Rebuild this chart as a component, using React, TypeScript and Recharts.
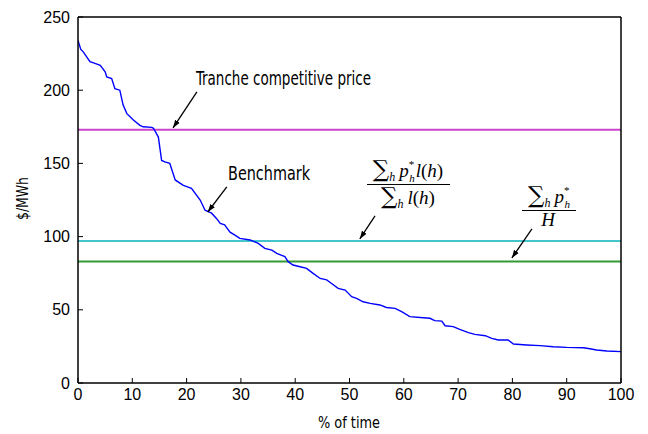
import React from 'react';
import { LineChart, Line, XAxis, YAxis, ReferenceLine } from 'recharts';

// % of time (x) and price in $/MWh (y) of the price-duration curve
const timePct = [
  0, 0.5, 1, 2.2, 3, 4.1, 5, 5.3, 6.2, 6.8, 7.7, 8.3, 9, 10.2, 11.4, 12, 13.6, 13.9,
  14.8, 15.4, 16, 16.9, 17.9, 19.4, 20.9, 22.5, 23.4, 24.6, 25.5, 26.2, 27, 28, 28.9,
  29.8, 31.7, 33.2, 34.4, 35.7, 36.6, 38.1, 38.7, 39.6, 40.9, 42.1, 43.3, 44.6, 45.8,
  46.7, 47.9, 49.2, 50.4, 51.3, 52.5, 53.8, 55.6, 56.8, 58.4, 59.6, 61.1, 63.6, 64.8,
  65.7, 67, 67.6, 69.1, 70.3, 71.9, 73.1, 75, 76.2, 77.4, 79.2, 80.2, 82.6, 85.1, 87.5,
  90, 93.1, 94, 95.5, 97.4, 100,
];
const price = [
  234, 228, 226, 219.5, 218.5, 217, 212.6, 209, 208, 201, 200, 190, 184, 179.6, 176, 175,
  174.6, 174, 168, 152, 151, 150, 138.7, 135, 133, 125, 118, 116, 112.4, 109, 108, 103,
  101, 98.8, 97.7, 95.4, 92, 90.8, 88.5, 86.3, 82.9, 80.6, 79.4, 78.3, 74.9, 71.4, 70.4,
  68, 64.6, 63.5, 59, 57.8, 55.5, 54.4, 53.3, 51.6, 51, 48.7, 45.3, 44.6, 44.2, 42.6,
  42.3, 39.1, 38.5, 36.6, 34.4, 33.2, 32.3, 30.5, 29.4, 29.4, 26.6, 26, 25.5, 24.8, 24.3,
  24.1, 23.6, 22.5, 21.9, 21.4,
];

const xTicks = [0, 10, 20, 30, 40, 50, 60, 70, 80, 90, 100];
const yTicks = [0, 50, 100, 150, 200, 250];

// horizontal reference price levels
const trancheLevel = 173;
const weightedAvgLevel = 97;
const simpleAvgLevel = 83;

// annotation arrows in data coordinates: [fromX, fromY, toX, toY]
const arrowTranche = [21.9, 198.8, 17.5, 174.2];
const arrowBenchmark = [27.4, 133.9, 23.9, 116.8];
const arrowWeighted = [54.7, 114.1, 51.9, 98.4];
const arrowSimple = [83.6, 105.2, 79.9, 85.4];
const arrows = [arrowTranche, arrowBenchmark, arrowWeighted, arrowSimple];

const data = timePct.map((x, i) => ({ x, p: price[i] }));

const tickFont = { fontFamily: "'Liberation Sans', Arial, sans-serif", fontSize: 16, fill: '#000' };
const condFont = "'DejaVu Sans Condensed', 'DejaVu Sans', sans-serif";
const serif = "'Liberation Serif', 'DejaVu Serif', serif";
const sumFont = "'DejaVu Serif', serif";

export default function App() {
  return (
    <div style={{ position: 'absolute', left: 0, top: 0, width: 648, height: 434, background: '#fff' }}>
      <svg width={0} height={0} style={{ position: 'absolute' }}>
        <defs>
          <marker id="arrowHead" viewBox="0 0 10 10" refX="10" refY="5" markerWidth="8" markerHeight="8"
            markerUnits="userSpaceOnUse" orient="auto">
            <path d="M0,1.5 L10,5 L0,8.5 z" fill="#000" />
          </marker>
        </defs>
      </svg>
      <LineChart width={648} height={434} data={data} margin={{ top: 0, right: 0, bottom: 0, left: 0 }}>
        <XAxis dataKey="x" type="number" domain={[0, 100]} ticks={xTicks} allowDataOverflow
          height={51} tickSize={-5} tickMargin={11} tick={tickFont}
          axisLine={{ stroke: '#000', strokeWidth: 1.5 }} tickLine={{ stroke: '#000' }} />
        <XAxis xAxisId="top" orientation="top" type="number" domain={[0, 100]} ticks={xTicks}
          allowDataOverflow height={17} tickSize={-5} tick={false}
          axisLine={{ stroke: '#000', strokeWidth: 1.5 }} tickLine={{ stroke: '#000' }} />
        <YAxis type="number" domain={[0, 250]} ticks={yTicks} allowDataOverflow width={78}
          tickSize={-5} tickMargin={13} tick={tickFont}
          axisLine={{ stroke: '#000', strokeWidth: 1.5 }} tickLine={{ stroke: '#000' }} />
        <YAxis yAxisId="right" orientation="right" type="number" domain={[0, 250]} ticks={yTicks}
          allowDataOverflow width={27} tickSize={-5} tick={false}
          axisLine={{ stroke: '#000', strokeWidth: 1.5 }} tickLine={{ stroke: '#000' }} />
        <ReferenceLine y={trancheLevel} stroke="#cc44cc" strokeWidth={2} />
        <ReferenceLine y={weightedAvgLevel} stroke="#44c4cc" strokeWidth={2} />
        <ReferenceLine y={simpleAvgLevel} stroke="#339933" strokeWidth={2} />
        <Line type="linear" dataKey="p" stroke="#0000ff" strokeWidth={1.4} dot={false}
          isAnimationActive={false} />
        {arrows.map((a, i) => (
          <ReferenceLine key={i} segment={[{ x: a[0], y: a[1] }, { x: a[2], y: a[3] }]}
            stroke="#000" strokeWidth={1.3} markerEnd="url(#arrowHead)" />
        ))}
      </LineChart>
      <svg width={648} height={434} style={{ position: 'absolute', left: 0, top: 0, pointerEvents: 'none' }}>
        <text x={196} y={85} fontFamily={condFont} fontSize={19} textLength={175}
          lengthAdjust="spacingAndGlyphs" fill="#000">Tranche competitive price</text>
        <text x={228} y={180} fontFamily={condFont} fontSize={19} textLength={82}
          lengthAdjust="spacingAndGlyphs" fill="#000">Benchmark</text>
        <text x={318} y={428} fontFamily={condFont} fontSize={16} textLength={62}
          lengthAdjust="spacingAndGlyphs" fill="#000">% of time</text>
        <text transform="translate(28,220) rotate(-90)" x={0} y={0} fontFamily={condFont}
          fontSize={16} textLength={43} lengthAdjust="spacingAndGlyphs" fill="#000">$/MWh</text>

        {/* weighted average formula */}
        <text x={408} y={177} textAnchor="middle" fontFamily={serif} fontSize={19} fill="#000">
          <tspan fontFamily={sumFont} fontSize={23}>∑</tspan>
          <tspan fontSize={12} fontStyle="italic" dy={4}>h</tspan>
          <tspan fontStyle="italic" dy={-4} dx={4}>p</tspan>
          <tspan fontSize={11} dy={-9}>*</tspan>
          <tspan fontSize={11} fontStyle="italic" dx={-5} dy={14}>h</tspan>
          <tspan fontStyle="italic" dy={-5} dx={1}>l</tspan>
          <tspan>(</tspan>
          <tspan fontStyle="italic">h</tspan>
          <tspan>)</tspan>
        </text>
        <line x1={367} x2={450} y1={184.5} y2={184.5} stroke="#000" strokeWidth={1} />
        <text x={408} y={204} textAnchor="middle" fontFamily={serif} fontSize={19} fill="#000">
          <tspan fontFamily={sumFont} fontSize={23}>∑</tspan>
          <tspan fontSize={12} fontStyle="italic" dy={4}>h</tspan>
          <tspan fontStyle="italic" dy={-4} dx={4}>l</tspan>
          <tspan>(</tspan>
          <tspan fontStyle="italic">h</tspan>
          <tspan>)</tspan>
        </text>

        {/* simple average formula */}
        <text x={549} y={203} textAnchor="middle" fontFamily={serif} fontSize={19} fill="#000">
          <tspan fontFamily={sumFont} fontSize={23}>∑</tspan>
          <tspan fontSize={12} fontStyle="italic" dy={4}>h</tspan>
          <tspan fontStyle="italic" dy={-4} dx={4}>p</tspan>
          <tspan fontSize={11} dy={-9}>*</tspan>
          <tspan fontSize={11} fontStyle="italic" dx={-5} dy={14}>h</tspan>
        </text>
        <line x1={522} x2={576} y1={210.5} y2={210.5} stroke="#000" strokeWidth={1} />
        <text x={548} y={226} textAnchor="middle" fontFamily={serif} fontSize={19} fontStyle="italic"
          fill="#000">H</text>
      </svg>
    </div>
  );
}
